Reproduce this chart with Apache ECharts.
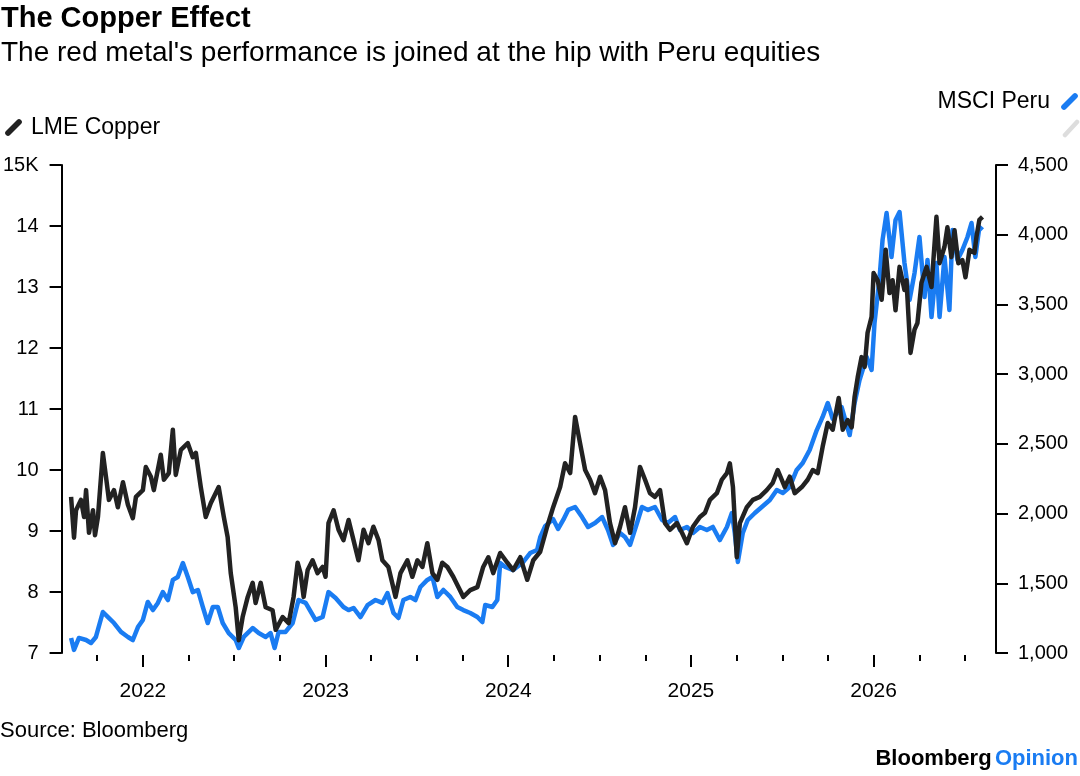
<!DOCTYPE html>
<html>
<head>
<meta charset="utf-8">
<script src="https://cdn.jsdelivr.net/npm/echarts@6/dist/echarts.min.js"></script>
<style>
html,body{margin:0;padding:0;background:#fff;}
#chart{width:1080px;height:776px;}
</style>
</head>
<body>
<div id="chart"></div>
<script>
// Dates as decimal years
const copperTimes = [2021.607,2021.623,2021.634,2021.661,2021.678,2021.689,2021.705,2021.727,2021.738,2021.754,2021.781,2021.798,2021.814,2021.842,2021.863,2021.891,2021.918,2021.945,2021.962,2022.000,2022.016,2022.044,2022.060,2022.098,2022.115,2022.142,2022.164,2022.180,2022.208,2022.246,2022.273,2022.290,2022.317,2022.344,2022.372,2022.415,2022.443,2022.464,2022.481,2022.508,2022.525,2022.546,2022.574,2022.601,2022.617,2022.645,2022.672,2022.710,2022.727,2022.765,2022.798,2022.825,2022.847,2022.863,2022.880,2022.902,2022.929,2022.956,2022.984,2023.000,2023.016,2023.044,2023.071,2023.098,2023.126,2023.153,2023.180,2023.208,2023.235,2023.262,2023.290,2023.311,2023.344,2023.383,2023.410,2023.448,2023.475,2023.503,2023.530,2023.557,2023.585,2023.612,2023.639,2023.667,2023.699,2023.727,2023.754,2023.792,2023.831,2023.863,2023.891,2023.918,2023.956,2023.995,2024.027,2024.066,2024.104,2024.137,2024.175,2024.213,2024.246,2024.284,2024.311,2024.339,2024.366,2024.393,2024.421,2024.448,2024.475,2024.503,2024.530,2024.557,2024.585,2024.612,2024.639,2024.667,2024.694,2024.721,2024.749,2024.776,2024.803,2024.831,2024.858,2024.885,2024.923,2024.951,2024.978,2025.011,2025.049,2025.077,2025.104,2025.142,2025.169,2025.197,2025.213,2025.230,2025.251,2025.268,2025.306,2025.339,2025.377,2025.415,2025.448,2025.475,2025.514,2025.541,2025.568,2025.607,2025.639,2025.667,2025.694,2025.721,2025.749,2025.776,2025.809,2025.831,2025.858,2025.880,2025.896,2025.913,2025.934,2025.951,2025.967,2025.989,2026.000,2026.022,2026.044,2026.066,2026.087,2026.104,2026.120,2026.142,2026.169,2026.180,2026.202,2026.224,2026.240,2026.262,2026.290,2026.317,2026.344,2026.361,2026.388,2026.404,2026.426,2026.443,2026.464,2026.486,2026.503,2026.525,2026.552,2026.563,2026.579,2026.596];
const copperValues = [9.56,8.89,9.34,9.51,9.23,9.67,8.97,9.34,8.93,9.23,10.28,9.89,9.51,9.67,9.39,9.80,9.43,9.21,9.56,9.67,10.05,9.89,9.67,10.25,9.84,9.95,10.66,9.92,10.33,10.44,10.21,10.28,9.72,9.23,9.46,9.72,9.23,8.90,8.31,7.75,7.21,7.59,7.92,8.15,7.82,8.15,7.75,7.70,7.38,7.59,7.49,7.92,8.48,8.31,7.92,8.36,8.52,8.31,8.41,8.25,9.13,9.34,9.02,8.85,9.18,8.85,8.52,9.02,8.80,9.07,8.85,8.52,8.41,7.92,8.31,8.52,8.25,8.52,8.41,8.80,8.31,8.20,8.48,8.41,8.25,8.08,7.92,8.03,8.08,8.41,8.57,8.31,8.64,8.48,8.36,8.57,8.20,8.52,8.66,9.07,9.39,9.72,10.11,9.95,10.87,10.44,10.00,9.84,9.62,9.89,9.67,9.13,8.80,9.07,9.39,8.97,9.39,10.05,9.84,9.62,9.56,9.67,9.13,9.02,9.13,8.97,8.80,9.07,9.23,9.30,9.51,9.62,9.84,9.95,10.11,9.72,8.57,9.13,9.39,9.51,9.56,9.67,9.79,10.00,9.72,9.89,9.62,9.72,9.84,10.00,9.95,10.38,10.77,10.66,11.18,10.66,10.82,10.70,11.20,11.52,11.85,11.69,12.25,12.51,13.23,13.11,12.79,13.61,12.90,13.11,12.62,13.33,12.95,13.11,11.92,12.30,12.41,13.07,13.33,13.00,14.15,13.39,13.66,13.98,13.49,13.93,13.39,13.44,13.16,13.61,13.56,13.82,14.10,14.15];

const peruTimes = [2021.607,2021.623,2021.650,2021.689,2021.716,2021.743,2021.781,2021.809,2021.842,2021.880,2021.918,2021.945,2021.973,2022.000,2022.027,2022.055,2022.082,2022.109,2022.137,2022.164,2022.191,2022.219,2022.246,2022.273,2022.301,2022.328,2022.355,2022.383,2022.410,2022.437,2022.470,2022.508,2022.525,2022.552,2022.601,2022.634,2022.672,2022.699,2022.721,2022.743,2022.781,2022.820,2022.852,2022.891,2022.945,2022.984,2023.016,2023.055,2023.098,2023.126,2023.153,2023.191,2023.230,2023.273,2023.311,2023.339,2023.372,2023.399,2023.426,2023.464,2023.492,2023.519,2023.557,2023.585,2023.612,2023.645,2023.683,2023.721,2023.754,2023.792,2023.831,2023.858,2023.874,2023.913,2023.940,2023.956,2023.984,2024.027,2024.077,2024.120,2024.158,2024.175,2024.202,2024.246,2024.273,2024.301,2024.328,2024.366,2024.404,2024.437,2024.475,2024.514,2024.546,2024.574,2024.612,2024.639,2024.667,2024.705,2024.732,2024.765,2024.803,2024.842,2024.874,2024.913,2024.940,2024.978,2025.011,2025.049,2025.087,2025.120,2025.158,2025.197,2025.224,2025.240,2025.257,2025.284,2025.311,2025.350,2025.388,2025.432,2025.470,2025.503,2025.541,2025.579,2025.612,2025.650,2025.689,2025.721,2025.749,2025.776,2025.825,2025.869,2025.896,2025.923,2025.962,2025.989,2026.005,2026.033,2026.049,2026.071,2026.098,2026.120,2026.142,2026.169,2026.197,2026.224,2026.251,2026.279,2026.295,2026.317,2026.344,2026.361,2026.388,2026.415,2026.432,2026.459,2026.486,2026.514,2026.536,2026.557,2026.579,2026.596];
const peruValues = [1108,1022,1108,1093,1072,1115,1294,1258,1215,1151,1115,1093,1186,1237,1366,1308,1359,1437,1380,1524,1545,1645,1545,1437,1452,1330,1215,1330,1330,1215,1143,1093,1036,1115,1179,1143,1115,1143,1036,1151,1151,1215,1380,1359,1237,1258,1437,1394,1330,1308,1323,1258,1344,1380,1359,1430,1287,1251,1380,1402,1380,1473,1524,1545,1402,1452,1402,1330,1308,1287,1258,1222,1344,1330,1380,1645,1617,1595,1645,1717,1739,1830,1910,1960,1890,1954,2026,2047,1975,1904,1932,1975,1882,1775,1861,1832,1775,1932,2047,2026,2047,1954,1932,1975,1882,1904,1861,1904,1882,1904,1810,1904,2004,1861,1653,1861,1954,2004,2047,2097,2169,2148,2191,2313,2363,2456,2599,2693,2793,2680,2764,2563,2793,2958,3123,3030,3367,3697,3962,4156,3840,4106,4163,3797,3532,3725,3984,3553,3819,3410,3797,3410,3840,3460,4034,3819,3890,3984,4084,3840,4055,4034];

const yearTicks = [2022, 2023, 2024, 2025, 2026];
const quarterTicks = [2021.75, 2022.25, 2022.5, 2022.75, 2023.25, 2023.5, 2023.75, 2024.25, 2024.5, 2024.75, 2025.25, 2025.5, 2025.75, 2026.25, 2026.5];
const xRange = [2021.555, 2026.67];

const copperData = copperTimes.map((t, i) => [t, copperValues[i]]);
const peruData = peruTimes.map((t, i) => [t, peruValues[i]]);

const FONT = '"Liberation Sans", Arial, sans-serif';
const BLACK = '#222222';
const BLUE = '#1a7cf2';
const slash = 'path://M0,13 L11,2 Q13,0 15,2 Q17,4 15,6 L4,17 Q2,19 0,17 Q-2,15 0,13 Z';

const chart = echarts.init(document.getElementById('chart'), null, {renderer: 'canvas'});
chart.setOption({
  animation: false,
  backgroundColor: '#ffffff',
  textStyle: {fontFamily: FONT},
  title: [
    {text: 'The Copper Effect', left: 1, top: 4, padding: 0, textStyle: {fontFamily: FONT, fontSize: 29, fontWeight: 'bold', color: '#000'}},
    {text: "The red metal's performance is joined at the hip with Peru equities", left: 1, top: 39, padding: 0, textStyle: {fontFamily: FONT, fontSize: 28, fontWeight: 'normal', color: '#000'}},
    {text: 'Source: Bloomberg', left: 0, top: 720, padding: 0, textStyle: {fontFamily: FONT, fontSize: 22, fontWeight: 'normal', color: '#000'}}
  ],
  legend: [
    {data: ['LME Copper'], left: 0, top: 111, itemWidth: 17, itemHeight: 17, itemGap: 10, icon: slash,
     textStyle: {fontFamily: FONT, fontSize: 23, color: '#000', padding: [0, 0, 0, 4]}, selectedMode: false},
    {data: ['MSCI Peru'], right: -3, top: 85, align: 'right', itemWidth: 17, itemHeight: 17, icon: slash,
     textStyle: {fontFamily: FONT, fontSize: 23, color: '#000', padding: [0, 6, 0, 0]}, selectedMode: false}
  ],
  graphic: [
    {type: 'line', shape: {x1: 1065, y1: 135, x2: 1077, y2: 122}, style: {stroke: '#dddddd', lineWidth: 4.5, lineCap: 'round'}},
    {type: 'text', right: 2, top: 748, style: {
      text: '{a|Bloomberg} {b|Opinion}',
      rich: {
        a: {fontFamily: FONT, fontSize: 22, fontWeight: 'bold', fill: '#000'},
        b: {fontFamily: FONT, fontSize: 22, fontWeight: 'bold', fill: BLUE}
      }
    }}
  ],
  grid: {left: 60, right: 84, top: 165, bottom: 123, containLabel: false},
  xAxis: [
    {type: 'value', min: xRange[0], max: xRange[1], position: 'bottom', offset: 2,
     axisLine: {show: false},
     axisTick: {show: true, length: 12, inside: false, lineStyle: {color: '#000', width: 2}, customValues: yearTicks},
     axisLabel: {show: true, margin: 26, fontFamily: FONT, fontSize: 21, color: '#000',
                 customValues: yearTicks, formatter: v => String(Math.round(v))},
     splitLine: {show: false}},
    {type: 'value', min: xRange[0], max: xRange[1], position: 'bottom', offset: 2,
     axisLine: {show: false},
     axisTick: {show: true, length: 6, lineStyle: {color: '#000', width: 2}, customValues: quarterTicks},
     axisLabel: {show: false, customValues: quarterTicks},
     splitLine: {show: false}}
  ],
  yAxis: [
    {type: 'value', min: 7, max: 15, interval: 1, position: 'left',
     axisLine: {show: true, lineStyle: {color: '#000', width: 2}},
     axisTick: {show: true, length: 12, lineStyle: {color: '#000', width: 2}},
     axisLabel: {margin: 23, fontFamily: FONT, fontSize: 20, color: '#000',
                 formatter: v => v === 15 ? '15K' : String(v)},
     splitLine: {show: false}},
    {type: 'value', min: 1000, max: 4500, interval: 500, position: 'right',
     axisLine: {show: true, lineStyle: {color: '#000', width: 2}},
     axisTick: {show: true, length: 12, lineStyle: {color: '#000', width: 2}},
     axisLabel: {margin: 22, fontFamily: FONT, fontSize: 20, color: '#000',
                 formatter: v => v.toLocaleString('en-US')},
     splitLine: {show: false}}
  ],
  series: [
    {name: 'MSCI Peru', type: 'line', xAxisIndex: 0, yAxisIndex: 1, data: peruData, showSymbol: false,
     lineStyle: {color: BLUE, width: 4.5, join: 'round'}, itemStyle: {color: BLUE}, z: 2},
    {name: 'LME Copper', type: 'line', xAxisIndex: 0, yAxisIndex: 0, data: copperData, showSymbol: false,
     lineStyle: {color: BLACK, width: 4.5, join: 'round'}, itemStyle: {color: BLACK}, z: 3}
  ]
});
</script>
</body>
</html>
